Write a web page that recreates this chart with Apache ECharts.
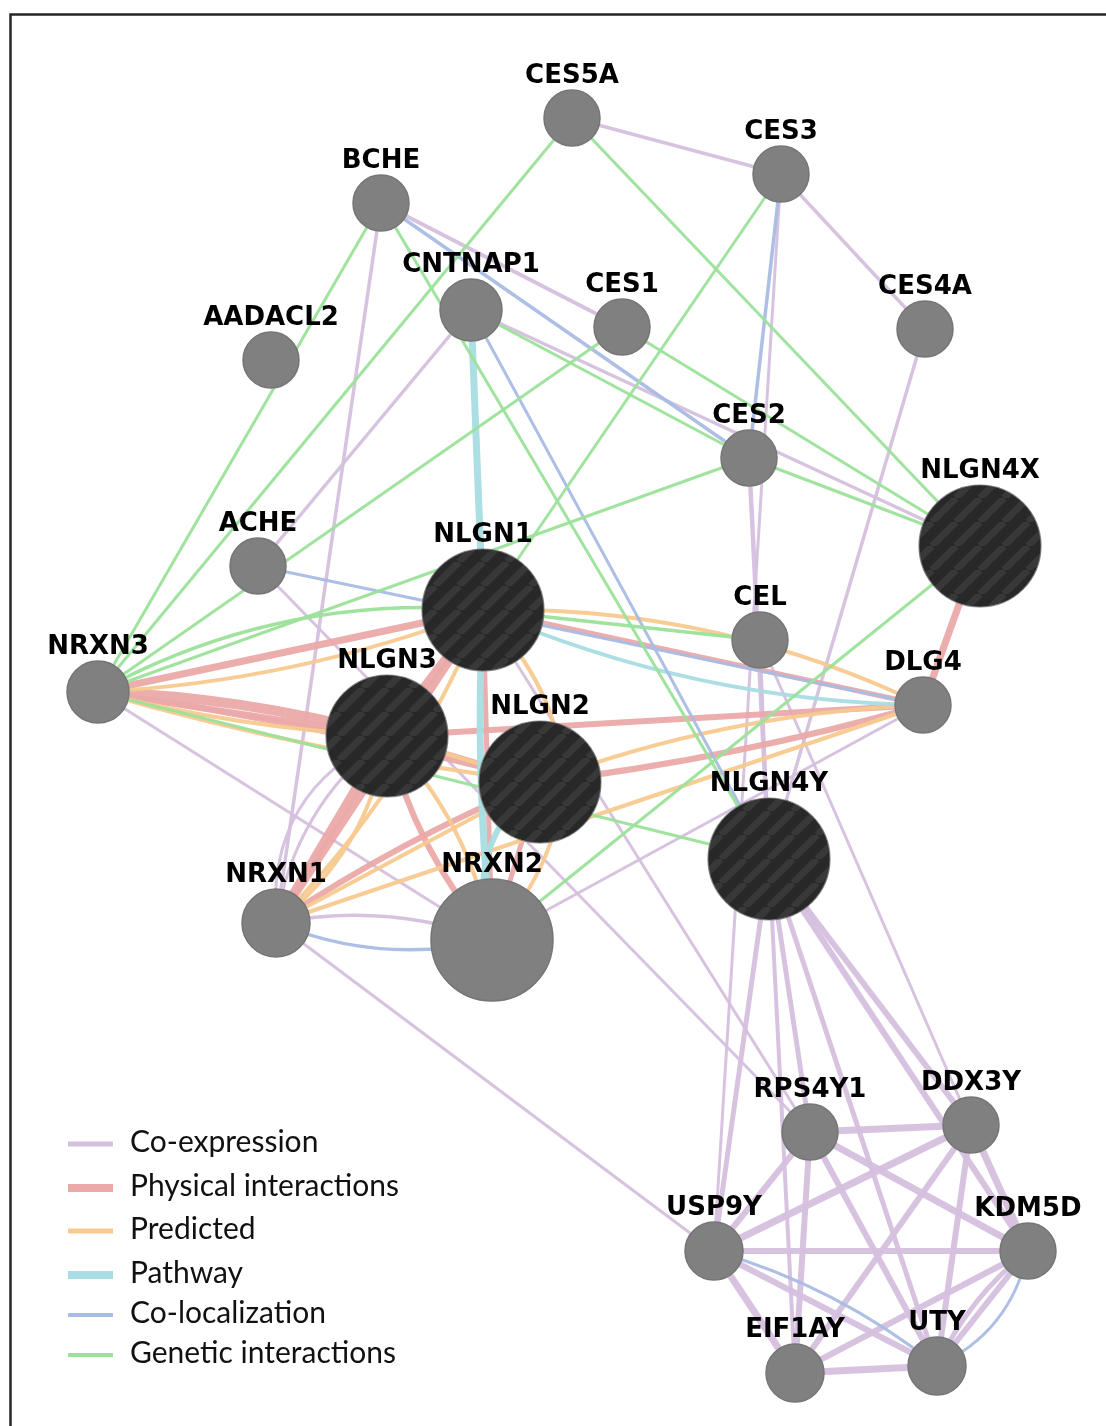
<!DOCTYPE html>
<html><head><meta charset="utf-8">
<script src="https://cdn.jsdelivr.net/npm/echarts@6/dist/echarts.min.js"></script>
<style>html,body{margin:0;padding:0;background:#fff}#c{width:1106px;height:1426px}</style>
</head><body><div id="c"></div>
<script>
// ---- data ----
const genes = ['CES5A','CES3','BCHE','CNTNAP1','CES1','CES4A','AADACL2','CES2','NLGN4X','ACHE','NLGN1','CEL','DLG4','NRXN3','NLGN3','NLGN2','NLGN4Y','NRXN1','NRXN2','RPS4Y1','DDX3Y','USP9Y','KDM5D','EIF1AY','UTY'];
// network layout coordinates (x, y)
const geneX = [572,781,381,471,622,925,271,749,980,258,483,760,923,98,387,540,769,276,492,810,971,714,1028,795,937];
const geneY = [118,174,203,310,327,329,360,458,546,566,610,640,705,692,736,782,859,923,940,1132,1125,1251,1251,1373,1366];
// node score (drawn as node diameter)
const geneScore = [56,56,56,62,56,56,56,56,122,56,122,56,56,62,122,122,122,68,122,56,56,58,56,58,58];
const queryGenes = ['NLGN4X','NLGN1','NLGN3','NLGN2','NLGN4Y'];
const networkTypes = ['Co-expression','Physical interactions','Predicted','Pathway','Co-localization','Genetic interactions'];
const typeKeys = ['coexp','physical','predicted','pathway','coloc','genetic'];
// edges: source, target, network type, weight
const edges = [
 ['CES5A','CES3','coexp',3.5],['CES3','CES4A','coexp',3.5],['CES3','USP9Y','coexp',3],['CES4A','NLGN4Y','coexp',3.5],
 ['BCHE','NRXN1','coexp',3.5],['BCHE','CES1','coexp',4],['CNTNAP1','NLGN4X','coexp',3.5],['CNTNAP1','ACHE','coexp',3.5],
 ['CES2','NLGN4Y','coexp',4.5],['CEL','NLGN4Y','coexp',3],['CEL','DDX3Y','coexp',3],['ACHE','RPS4Y1','coexp',3],
 ['NLGN1','RPS4Y1','coexp',3],['NRXN2','DLG4','coexp',3],['NRXN1','USP9Y','coexp',3],['NRXN3','NRXN2','coexp',3],
 ['NRXN1','NLGN3','coexp',3],['NLGN3','NRXN1','coexp',3],['NRXN1','NRXN2','coexp',3.5],
 ['NLGN4Y','USP9Y','coexp',5],['NLGN4Y','RPS4Y1','coexp',5],['NLGN4Y','EIF1AY','coexp',4],['NLGN4Y','UTY','coexp',5],
 ['NLGN4Y','DDX3Y','coexp',6],['NLGN4Y','KDM5D','coexp',6],
 ['RPS4Y1','DDX3Y','coexp',7],['RPS4Y1','USP9Y','coexp',6],['RPS4Y1','KDM5D','coexp',7],['RPS4Y1','UTY','coexp',6],['RPS4Y1','EIF1AY','coexp',6],
 ['DDX3Y','USP9Y','coexp',7],['DDX3Y','EIF1AY','coexp',6],['DDX3Y','UTY','coexp',6],['DDX3Y','KDM5D','coexp',7],
 ['USP9Y','KDM5D','coexp',6],['USP9Y','EIF1AY','coexp',7],['USP9Y','UTY','coexp',6],
 ['KDM5D','EIF1AY','coexp',6],['KDM5D','UTY','coexp',6],['UTY','KDM5D','coexp',5],['EIF1AY','UTY','coexp',7],
 ['NLGN4X','DLG4','physical',7],['NRXN3','NLGN1','physical',7],['NRXN3','NLGN3','physical',10],['NLGN3','NRXN3','physical',6],
 ['NRXN3','NLGN2','physical',6],['NLGN1','DLG4','physical',5],['NLGN3','DLG4','physical',6],['NLGN2','DLG4','physical',6],
 ['NLGN1','NLGN3','physical',9],['NRXN1','NLGN1','physical',8],['NRXN1','NLGN3','physical',9],['NRXN1','NLGN2','physical',6],
 ['NLGN1','NRXN2','physical',5],['NLGN3','NRXN2','physical',6],['NLGN2','NRXN2','physical',5],['NLGN3','NLGN2','physical',6],
 ['NRXN3','NLGN1','predicted',4],['NRXN3','NLGN3','predicted',4],['NRXN3','NLGN2','predicted',4],['NLGN1','DLG4','predicted',4],
 ['NLGN2','DLG4','predicted',4],['NRXN1','DLG4','predicted',4],['NRXN1','NLGN2','predicted',4],['NRXN1','NLGN1','predicted',4],
 ['NRXN1','NLGN3','predicted',4],['NLGN1','NRXN2','predicted',4],['NLGN3','NRXN2','predicted',4],['NLGN3','NLGN2','predicted',4],
 ['CNTNAP1','NLGN1','pathway',7],['NLGN1','NRXN2','pathway',7],['NLGN2','NRXN2','pathway',6],['NLGN1','DLG4','pathway',4],
 ['CES3','CES2','coloc',3.5],['BCHE','CES2','coloc',3.5],['CNTNAP1','NLGN4Y','coloc',3],['ACHE','DLG4','coloc',3],
 ['NRXN1','NRXN2','coloc',3.5],['USP9Y','UTY','coloc',3],['KDM5D','UTY','coloc',3],
 ['CES5A','NRXN3','genetic',3],['CES5A','NLGN4X','genetic',3],['CES3','NLGN1','genetic',3],['BCHE','NRXN3','genetic',3],
 ['BCHE','NLGN4Y','genetic',3],['CNTNAP1','CES2','genetic',3],['CES1','NRXN3','genetic',3],['CES1','NLGN4X','genetic',3],
 ['CES2','NLGN4X','genetic',3],['CES2','NRXN3','genetic',3],['NLGN4X','NRXN2','genetic',3],['NRXN3','NLGN4Y','genetic',3],
 ['NRXN3','NLGN1','genetic',3.5],['NLGN1','CEL','genetic',3.5]
];

// ---- styling ----
const typeColor = {coexp:'#d5c0de', physical:'#eba9a9', predicted:'#f7c98f', pathway:'#a8dde1', coloc:'#a9bce3', genetic:'#9be29a'};
const legendWidth = {coexp:5, physical:8, predicted:5, pathway:8, coloc:4, genetic:4};
const edgeBend = {
 'NRXN3|NLGN1|genetic':0.15, 'NRXN3|NLGN1|predicted':-0.08, 'NRXN3|NLGN3|physical':0.06,
 'NRXN3|NLGN2|physical':0.03, 'NRXN3|NLGN3|predicted':-0.05, 'NRXN3|NLGN2|predicted':-0.04,
 'NLGN1|DLG4|predicted':0.12, 'NLGN1|DLG4|pathway':-0.1, 'NLGN2|DLG4|physical':-0.04, 'NLGN2|DLG4|predicted':0.08,
 'NRXN1|NRXN2|coexp':0.14, 'NRXN1|NRXN2|coloc':-0.16, 'NRXN1|NLGN3|coexp':0.35, 'NLGN3|NRXN1|coexp':-0.2,
 'NRXN1|NLGN1|predicted':-0.1, 'NRXN1|NLGN3|predicted':-0.2, 'NRXN1|NLGN2|physical':0.05,
 'NLGN1|NRXN2|predicted':0.45, 'NLGN3|NRXN2|physical':-0.12, 'NLGN3|NRXN2|predicted':0.15,
 'NLGN2|NRXN2|pathway':-0.35, 'NLGN1|NRXN2|pathway':-0.04,
 'USP9Y|UTY|coloc':0.1, 'KDM5D|UTY|coloc':0.25, 'UTY|KDM5D|coexp':0.12
};

function stripePattern(){
  const s = 24, c = document.createElement('canvas');
  c.width = s; c.height = s;
  const g = c.getContext('2d');
  g.fillStyle = '#282828'; g.fillRect(0,0,s,s);
  g.strokeStyle = '#383838'; g.lineWidth = 7;
  for (const k of [-1,0,1]) { g.beginPath(); g.moveTo(k*s, s); g.lineTo(k*s+s, 0); g.stroke(); }
  return c;
}
const stripeCanvas = stripePattern();
// symbols are unit paths scaled by size/2, so counter-scale the pattern
function patternFor(size){ return {image: stripeCanvas, repeat: 'repeat', scaleX: 2/size, scaleY: 2/size}; }

const nodes = genes.map((g,i) => ({
  name: g,
  value: [geneX[i], geneY[i]],
  symbolSize: geneScore[i],
  itemStyle: queryGenes.includes(g)
    ? {color: patternFor(geneScore[i]), borderColor: 'rgba(110,110,110,0.8)', borderWidth: 1.2}
    : {color: '#808080', borderColor: '#757575', borderWidth: 1.5}
}));

const links = edges.map(e => {
  const key = e[0]+'|'+e[1]+'|'+e[2];
  return {
    source: e[0], target: e[1],
    lineStyle: {color: typeColor[e[2]], width: e[3], curveness: edgeBend[key] || 0, opacity: 0.95}
  };
});

// legend as graphic elements
const legendY = [1142, 1186, 1229, 1273, 1313, 1353];
const graphics = [{type:'rect', shape:{x:10.5, y:14.5, width:1300, height:1600}, style:{fill:null, stroke:'#262626', lineWidth:2.5}, silent:true}];
typeKeys.forEach((k,i) => {
  graphics.push({type:'line', shape:{x1:68, y1:legendY[i]+2, x2:113, y2:legendY[i]+2}, style:{stroke:typeColor[k], lineWidth:legendWidth[k]}, silent:true});
  graphics.push({type:'text', x:130, y:legendY[i], style:{text:networkTypes[i], font:'30px Lato', fill:'#111', verticalAlign:'middle', align:'left'}, silent:true});
});

const chart = echarts.init(document.getElementById('c'), null, {renderer:'canvas'});
chart.setOption({
  animation: false,
  backgroundColor: '#fff',
  grid: {left:0, right:0, top:0, bottom:0},
  xAxis: {type:'value', min:0, max:1106, show:false},
  yAxis: {type:'value', min:0, max:1426, inverse:true, show:false},
  graphic: graphics,
  series: [{
    type: 'graph',
    coordinateSystem: 'cartesian2d',
    layout: 'none',
    symbol: 'circle',
    data: nodes,
    links: links,
    label: {show:true, position:'top', distance:0, fontFamily:'DejaVu Sans', fontWeight:'bold', fontSize:26, color:'#000'},
    emphasis: {disabled:true},
    z: 2
  }]
});
</script></body></html>
